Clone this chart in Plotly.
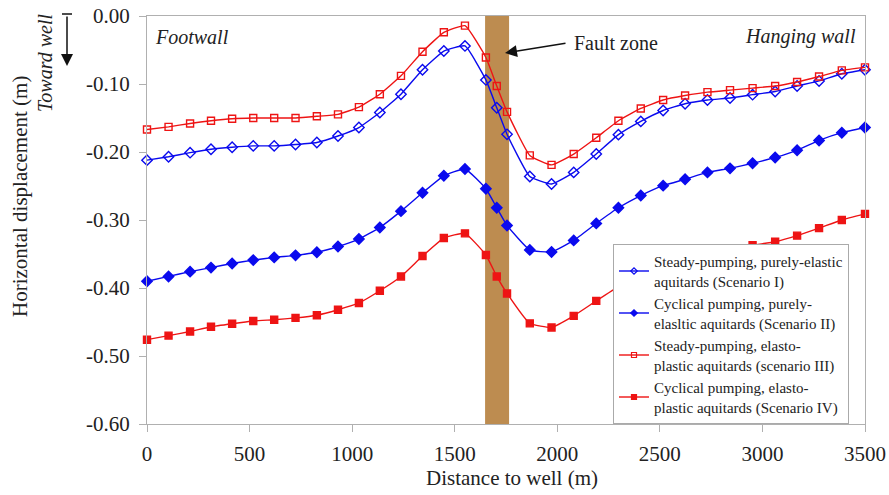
import plotly.graph_objects as go

# Distance to well (m)
distance = [0, 105, 210, 312, 415, 518, 620, 724, 828, 931, 1033, 1135, 1238, 1343, 1447,
            1550, 1652, 1705, 1755, 1866, 1972, 2080, 2190, 2298, 2407, 2516, 2623, 2732,
            2842, 2952, 3062, 3169, 3276, 3387, 3500]

scenario_1 = [-0.212, -0.207, -0.201, -0.196, -0.193, -0.191, -0.191, -0.189, -0.186, -0.1765,
              -0.164, -0.142, -0.115, -0.079, -0.0515, -0.044, -0.094, -0.135, -0.174, -0.236,
              -0.247, -0.230, -0.203, -0.1745, -0.155, -0.139, -0.129, -0.1235, -0.1205, -0.1157,
              -0.111, -0.103, -0.0955, -0.085, -0.079]

scenario_2 = [-0.390, -0.383, -0.376, -0.370, -0.364, -0.359, -0.355, -0.352, -0.3475, -0.339,
              -0.328, -0.311, -0.287, -0.260, -0.235, -0.225, -0.254, -0.282, -0.308, -0.344,
              -0.347, -0.330, -0.305, -0.282, -0.264, -0.2495, -0.240, -0.230, -0.224, -0.2166,
              -0.208, -0.1975, -0.183, -0.1716, -0.164]

scenario_3 = [-0.167, -0.163, -0.158, -0.154, -0.151, -0.150, -0.150, -0.150, -0.1475, -0.1446,
              -0.134, -0.115, -0.088, -0.0525, -0.024, -0.0142, -0.061, -0.103, -0.141, -0.205,
              -0.219, -0.203, -0.179, -0.154, -0.136, -0.1235, -0.117, -0.112, -0.109, -0.106,
              -0.103, -0.097, -0.089, -0.080, -0.0755]

scenario_4 = [-0.476, -0.470, -0.464, -0.457, -0.4525, -0.4485, -0.4466, -0.444, -0.440, -0.432,
              -0.422, -0.404, -0.383, -0.353, -0.3265, -0.3196, -0.3515, -0.383, -0.408, -0.452,
              -0.458, -0.441, -0.419, -0.398, -0.382, -0.368, -0.359, -0.350, -0.344, -0.337,
              -0.332, -0.323, -0.312, -0.300, -0.291]

names = [
    "Steady-pumping, purely-elastic<br>aquitards (Scenario I)",
    "Cyclical pumping, purely-<br>elasltic aquitards (Scenario II)",
    "Steady-pumping, elasto-<br>plastic aquitards (scenario III)",
    "Cyclical pumping, elasto-<br>plastic aquitards (Scenario IV)",
]

fault_zone = [1648, 1765]
x_ticks = [0, 500, 1000, 1500, 2000, 2500, 3000, 3500]
y_ticks = [0.0, -0.1, -0.2, -0.3, -0.4, -0.5, -0.6]

BLUE = "#0a0aee"
RED = "#ee1414"
SERIF = "Liberation Serif"

fig = go.Figure()

styles = [
    (scenario_1, BLUE, "diamond-open", 8),
    (scenario_2, BLUE, "diamond", 8),
    (scenario_3, RED, "square-open", 7),
    (scenario_4, RED, "square", 7),
]
for (vals, col, sym, size), name in zip(styles, names):
    fig.add_trace(go.Scatter(
        x=distance, y=vals, mode="lines+markers", name=name, showlegend=False,
        line=dict(color=col, width=1.4, shape="spline", smoothing=0.4),
        marker=dict(symbol=sym, size=size, color=col, line=dict(color=col, width=1.4)),
        cliponaxis=False,
    ))

# legend entries with small markers, as in the original
for (vals, col, sym, size), name in zip(styles, names):
    fig.add_trace(go.Scatter(
        x=[None], y=[None], mode="lines+markers", name=name,
        line=dict(color=col, width=1.4),
        marker=dict(symbol=sym, size=5, color=col, line=dict(color=col, width=1.2)),
    ))

# fault zone band
fig.add_shape(type="rect", xref="x", yref="paper", x0=fault_zone[0], x1=fault_zone[1],
              y0=0, y1=1, fillcolor="#bd8c50", line=dict(width=0), layer="below")

L, R, T, B = 147, 865, 16, 424
W, H = 889, 495


def px(x):
    return (x - L) / (R - L)


def py(y):
    return (B - y) / (B - T)


annotations = [
    dict(text="<i>Footwall</i>", x=px(153), y=py(37), xanchor="left", yanchor="middle",
         font=dict(size=20, family=SERIF, color="#222")),
    dict(text="<i>Hanging wall</i>", x=px(858), y=py(36), xanchor="right", yanchor="middle",
         font=dict(size=20, family=SERIF, color="#222")),
    dict(text="Fault zone", x=px(572), y=py(43), xanchor="left", yanchor="middle",
         font=dict(size=20, family=SERIF, color="#222")),
    dict(text="", x=px(505), y=py(53), ax=62, ay=-10, showarrow=True, arrowhead=2,
         arrowsize=1.6, arrowwidth=1.5, arrowcolor="#111"),
    dict(text="<i>Toward well</i>", x=px(45), y=py(63), xanchor="center", yanchor="middle",
         textangle=-90, font=dict(size=20, family=SERIF, color="#222")),
    dict(text="", x=px(67), y=py(66), ax=0, ay=-51, showarrow=True, arrowhead=2,
         arrowsize=1.6, arrowwidth=1.5, arrowcolor="#111"),
    dict(text="Horizontal displacement (m)", x=px(20), y=py(197), xanchor="center",
         yanchor="middle", textangle=-90, font=dict(size=21, family=SERIF, color="#222")),
    dict(text="Distance to well (m)", x=px(512), y=py(478), xanchor="center",
         yanchor="middle", font=dict(size=21, family=SERIF, color="#222")),
]
for a in annotations:
    a.setdefault("showarrow", False)
    a["xref"] = "paper"
    a["yref"] = "paper"
    fig.add_annotation(**a)

# bar at top of the "toward well" arrow
fig.add_shape(type="line", xref="paper", yref="paper", x0=px(62), x1=px(72),
              y0=py(14), y1=py(14), line=dict(color="#111", width=1.5))

fig.update_layout(
    width=W, height=H,
    margin=dict(l=L, r=W - R, t=T, b=H - B, autoexpand=False),
    paper_bgcolor="white", plot_bgcolor="white",
    font=dict(family=SERIF, size=20, color="#222"),
    showlegend=True,
    legend=dict(x=px(613), y=py(244), xanchor="left", yanchor="top",
                bgcolor="white", bordercolor="#aaaaaa", borderwidth=1,
                font=dict(size=15, family=SERIF, color="#222"),
                itemwidth=30, tracegroupgap=0),
    xaxis=dict(range=[0, 3500], tickvals=x_ticks, ticktext=[str(v) for v in x_ticks],
               showgrid=False, zeroline=False, showline=True, linecolor="#b0b0b0",
               linewidth=1, mirror=True, ticks="outside", ticklen=7, tickcolor="#b0b0b0",
               automargin=False, ticklabelstandoff=4,
               tickfont=dict(size=21, family=SERIF, color="#222")),
    yaxis=dict(range=[-0.6, 0.0], tickvals=y_ticks, ticktext=[f"{v:.2f}" for v in y_ticks],
               showgrid=False, zeroline=False, showline=True, linecolor="#b0b0b0",
               linewidth=1, mirror=True, ticks="outside", ticklen=7, tickcolor="#b0b0b0",
               automargin=False, ticklabelstandoff=5,
               tickfont=dict(size=21, family=SERIF, color="#222")),
)

fig.write_html("out.html")
